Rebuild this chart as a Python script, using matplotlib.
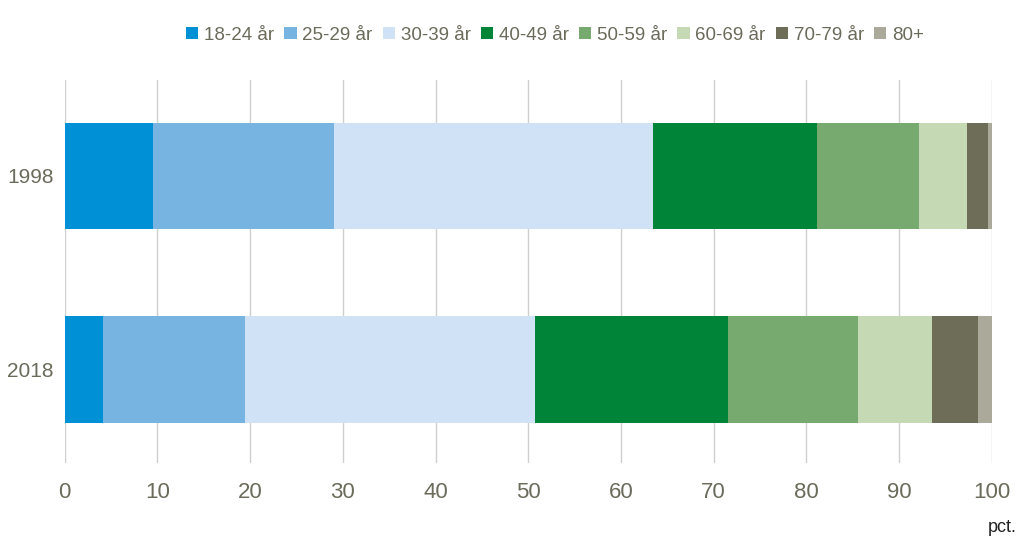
import matplotlib.pyplot as plt
import numpy as np
from matplotlib import font_manager

# Data (percent of each age group per year)
years = ["2018", "1998"]
groups = ["18-24 år", "25-29 år", "30-39 år", "40-49 år", "50-59 år", "60-69 år", "70-79 år", "80+"]
v1998 = [9.5, 19.5, 34.5, 17.6, 11.0, 5.2, 2.3, 0.4]
v2018 = [4.1, 15.4, 31.2, 20.9, 14.0, 8.0, 4.9, 1.5]
colors = ["#0090d5", "#78b4e2", "#d0e2f5", "#008438", "#77aa6f", "#c5d9b4", "#6d6d58", "#aaa99a"]

names = {f.name for f in font_manager.fontManager.ttflist}
font = "Liberation Sans Narrow" if "Liberation Sans Narrow" in names else "Liberation Sans"
plt.rcParams["font.family"] = [font, "DejaVu Sans"]

txt = "#6b6b5b"

fig = plt.figure(figsize=(10.24, 5.51), dpi=100)
ax = fig.add_axes([0.0632, 0.1597, 0.9053, 0.6953])

y = np.arange(len(years))
left = np.zeros(len(years))
for i, g in enumerate(groups):
    vals = np.array([v2018[i], v1998[i]])
    ax.barh(y, vals, left=left, height=0.55, color=colors[i], label=g, zorder=3)
    left += vals

ax.set_xlim(0, 100)
ax.set_ylim(-0.483, 1.496)
ax.set_xticks(range(0, 101, 10))
ax.set_yticks(y)
ax.set_yticklabels(years)
ax.grid(axis="x", color="#cfcfcf", linewidth=1, zorder=0)
for s in ax.spines.values():
    s.set_visible(False)
ax.tick_params(axis="x", length=0, labelsize=16, labelcolor=txt, pad=14)
ax.tick_params(axis="y", length=0, labelsize=15, labelcolor=txt, pad=8)

fig.text(0.993, 1 - 527 / 551, "pct.", ha="right", va="center", fontsize=13, color="#222222")

fig.legend(loc="center", bbox_to_anchor=(0.542, 1 - 35 / 551), ncol=8, frameon=False,
           fontsize=13.5, handlelength=0.65, handleheight=0.65, handletextpad=0.3,
           columnspacing=0.55, labelcolor=txt)

fig.savefig("out.png", dpi=100)
